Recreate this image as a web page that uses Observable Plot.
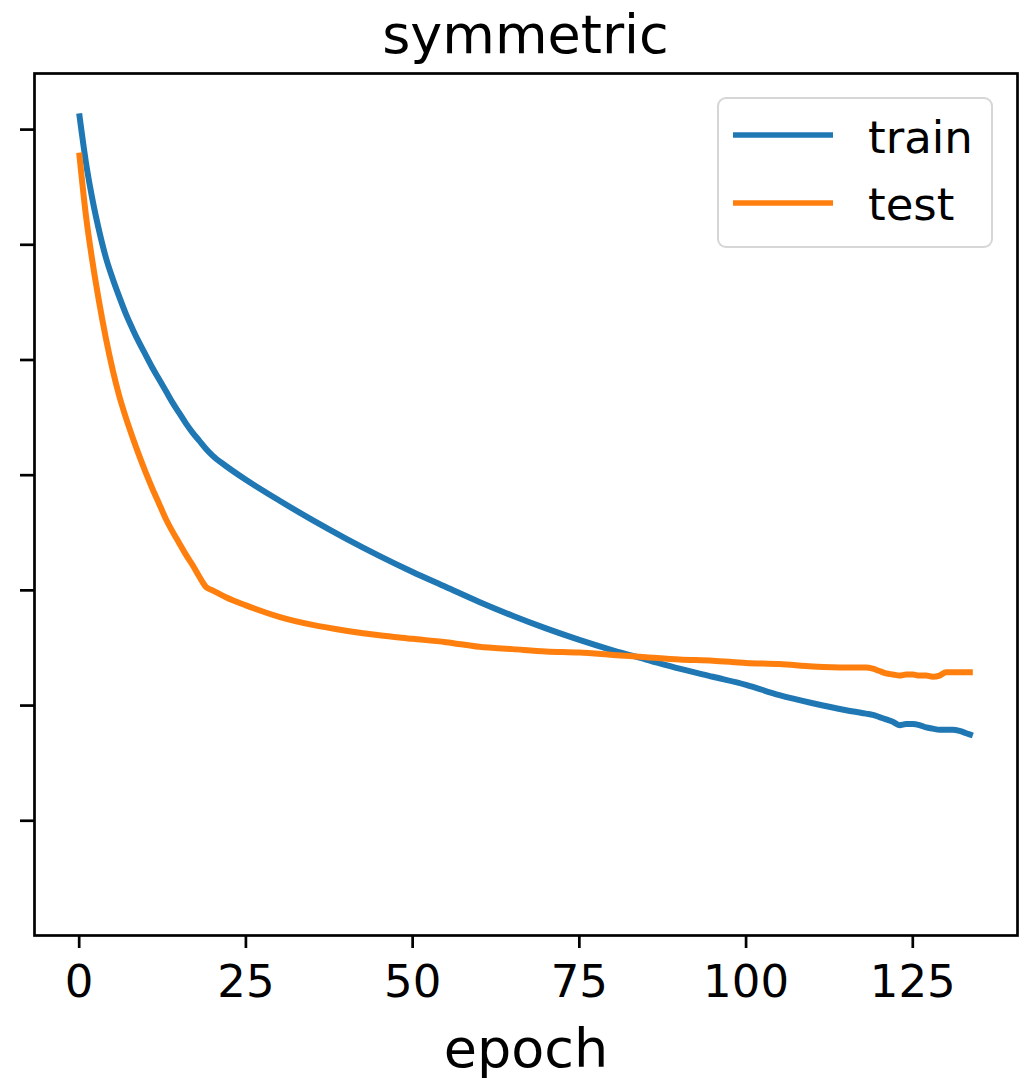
<!DOCTYPE html>
<html>
<head>
<meta charset="utf-8">
<script src="https://cdn.jsdelivr.net/npm/d3@7"></script>
<script src="https://cdn.jsdelivr.net/npm/@observablehq/plot@0.6"></script>
<style>
  html, body { margin: 0; padding: 0; background: #fff; }
  #wrap { position: relative; width: 1030px; height: 1078px; font-family: "DejaVu Sans", sans-serif; }
  #title { position: absolute; left: 34px; width: 983px; top: 0; height: 70px; line-height: 70px;
           text-align: center; font-size: 54px; color: #000; }
  #chart { position: absolute; left: 0; top: 70px; }
  #legend { position: absolute; left: 717px; top: 97px; width: 276px; height: 151px; box-sizing: border-box;
            border: 2.5px solid rgba(204,204,204,0.8); border-radius: 9px; background: rgba(255,255,255,0.8); }
  .lg-line { position: absolute; left: 14px; width: 100px; height: 6px; }
  .lg-text { position: absolute; left: 149px; font-size: 45px; line-height: 45px; color: #000; white-space: nowrap; }
</style>
</head>
<body>
<div id="wrap">
  <div id="title"></div>
  <div id="chart"></div>
  <div id="legend"></div>
</div>
<script>
// ---- data ----
const titleText = "symmetric";
const xLabel = "epoch";
const seriesNames = ["train", "test"];
const seriesColors = ["#1f77b4", "#ff7f0e"];
const xTicks = [0, 25, 50, 75, 100, 125];
const yTicks = [1, 2, 3, 4, 5, 6, 7];

const epochs = [0,1,2,3,4,5,6,7,8,9,10,11,12,13,14,15,16,17,18,19,20,22,25,30,35,40,45,50,55,60,65,70,75,80,85,90,95,100,105,110,115,118,119,120,121,122,123,124,125,126,127,128,129,130,131,132,133,134];

const trainLoss = [7.14,6.72,6.39,6.12,5.89,5.71,5.55,5.40,5.27,5.15,5.04,4.93,4.83,4.73,4.63,4.54,4.45,4.37,4.30,4.23,4.17,4.08,3.96,3.78,3.61,3.45,3.30,3.16,3.03,2.90,2.78,2.67,2.57,2.48,2.40,2.32,2.25,2.18,2.09,2.02,1.96,1.93,1.92,1.90,1.88,1.86,1.83,1.84,1.84,1.83,1.81,1.80,1.79,1.79,1.79,1.78,1.76,1.74];

const testLoss = [6.80,6.26,5.85,5.50,5.19,4.92,4.69,4.50,4.33,4.17,4.02,3.88,3.75,3.62,3.51,3.41,3.31,3.22,3.12,3.03,3.00,2.94,2.87,2.77,2.70,2.65,2.61,2.58,2.55,2.51,2.49,2.47,2.46,2.44,2.42,2.40,2.39,2.37,2.36,2.34,2.33,2.33,2.32,2.30,2.28,2.27,2.26,2.27,2.27,2.26,2.26,2.25,2.26,2.29,2.29,2.29,2.29,2.29];

const xDomain = [-6.7, 140.7];
const yDomain = [0.004, 7.487];

// ---- build ----
const seriesValues = [trainLoss, testLoss];
const rows = [];
seriesNames.forEach((name, k) => {
  epochs.forEach((e, i) => rows.push({epoch: e, value: seriesValues[k][i], set: name}));
});

document.getElementById("title").textContent = titleText;

const chart = Plot.plot({
  width: 1030,
  height: 1008,
  marginTop: 3,
  marginLeft: 34,
  marginRight: 13,
  marginBottom: 143,
  style: {fontFamily: "DejaVu Sans", fontSize: "45px", color: "#000", background: "transparent"},
  x: {domain: xDomain},
  y: {domain: yDomain},
  color: {domain: seriesNames, range: seriesColors},
  marks: [
    Plot.line(rows, {x: "epoch", y: "value", z: "set", stroke: "set", strokeWidth: 6, curve: "monotone-x",
                     strokeLinejoin: "round", strokeLinecap: "butt"}),
    Plot.frame({stroke: "#000", strokeWidth: 2.7}),
    Plot.axisX({ticks: xTicks, tickSize: 13, tickPadding: 17, strokeWidth: 2.7, fontSize: 45,
                label: xLabel, labelAnchor: "center", labelArrow: "none", labelOffset: 131}),
    Plot.axisY({ticks: yTicks, tickSize: 14, strokeWidth: 2.7, tickFormat: () => "", label: null})
  ]
});
document.getElementById("chart").appendChild(chart);
const lab = chart.querySelector('[aria-label="x-axis label"]');
if (lab) lab.style.fontSize = "54px";

// legend
const legend = document.getElementById("legend");
seriesNames.forEach((name, i) => {
  const lineTop = 135 + 68 * i - 97 - 2.5 - 3;
  const sw = document.createElementNS("http://www.w3.org/2000/svg", "svg");
  sw.setAttribute("class", "lg-line");
  sw.setAttribute("width", "100");
  sw.setAttribute("height", "6");
  sw.style.top = lineTop + "px";
  const ln = document.createElementNS("http://www.w3.org/2000/svg", "line");
  ln.setAttribute("x1", 0); ln.setAttribute("x2", 100);
  ln.setAttribute("y1", 3); ln.setAttribute("y2", 3);
  ln.setAttribute("stroke", seriesColors[i]);
  ln.setAttribute("stroke-width", 5.5);
  sw.appendChild(ln);
  legend.appendChild(sw);
  const tx = document.createElement("div");
  tx.className = "lg-text";
  tx.textContent = name;
  tx.style.top = (153 + 67 * i - 38 - 97 - 2.5) + "px";
  legend.appendChild(tx);
});
</script>
</body>
</html>
